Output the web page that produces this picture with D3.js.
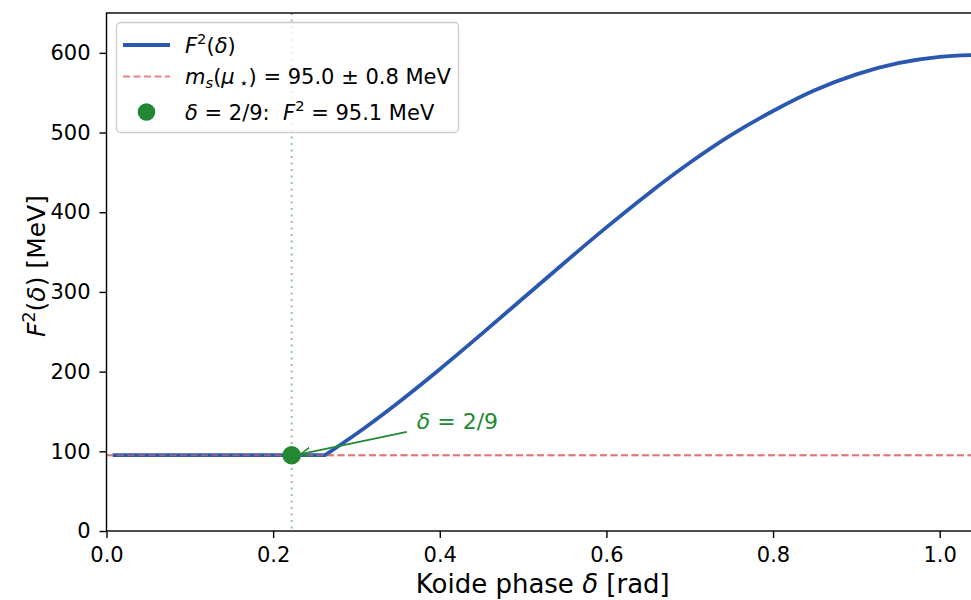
<!DOCTYPE html>
<html>
<head>
<meta charset="utf-8">
<script src="https://cdn.jsdelivr.net/npm/d3@7"></script>
<style>
  body { margin: 0; background: #fff; }
  svg { display: block; font-family: "DejaVu Sans", sans-serif; }
</style>
</head>
<body>
<div id="chart"></div>
<script>
// curve F^2(delta) (flat part, then the rise from the kink)
var deltaVals = [0.0075, 0.05, 0.10, 0.15, 0.20, 0.2222, 0.2623, 0.30, 0.35, 0.40, 0.45, 0.50, 0.55, 0.60, 0.65, 0.70, 0.75, 0.80, 0.85, 0.90, 0.95, 1.00, 1.0472];
var f2Vals    = [95.1, 95.1, 95.1, 95.1, 95.1, 95.1, 95.1, 122, 161, 203, 247, 292, 337, 381, 423, 462, 497, 527, 553, 573, 587, 595, 597.4];
var kinkIndex = 6;

var msValue = 95.0;
var deltaStar = 2 / 9;
var f2Star = 95.1;

var xTicks = [0.0, 0.2, 0.4, 0.6, 0.8, 1.0];
var yTicks = [0, 100, 200, 300, 400, 500, 600];

var width = 971, height = 600;
var plotL = 106.5, plotR = 979, plotT = 13, plotB = 531;

var blue = "#2a58b0", red = "#e07070", green = "#228833";

var svg = d3.select("#chart").append("svg")
    .attr("width", width)
    .attr("height", height);

var x = d3.scaleLinear().domain([0, Math.PI / 3]).range([plotL, plotR]);
var y = d3.scaleLinear().domain([0, 650]).range([plotB, plotT]);

// writes simple "mathtext" as tspans, size = base font size in px
function richText(sel, parts, size) {
    sel.style("font-size", size + "px");
    var shift = 0;
    parts.forEach(function (p) {
        var t = sel.append("tspan").text(p.t);
        var want = p.sup ? -0.42 * size : (p.sub ? 0.2 * size : 0);
        if (want !== shift) t.attr("dy", want - shift);
        shift = want;
        if (p.it) t.style("font-style", "italic");
        if (p.sup || p.sub) t.style("font-size", (0.7 * size) + "px");
    });
    return sel;
}

var plot = svg.append("g");

// vertical dotted line at delta = 2/9
plot.append("line")
    .attr("x1", x(deltaStar)).attr("x2", x(deltaStar))
    .attr("y1", plotT).attr("y2", plotB)
    .attr("stroke", green)
    .attr("stroke-opacity", 0.5)
    .attr("stroke-width", 2)
    .attr("stroke-dasharray", "2,4.5");

// m_s reference line
plot.append("line")
    .attr("x1", plotL).attr("x2", plotR)
    .attr("y1", y(msValue)).attr("y2", y(msValue))
    .attr("stroke", red)
    .attr("stroke-opacity", 0.9)
    .attr("stroke-width", 2)
    .attr("stroke-dasharray", "7,3.5");

var pts = deltaVals.map(function (d, i) { return [d, f2Vals[i]]; });
var flatLine = d3.line()
    .x(function (d) { return x(d[0]); })
    .y(function (d) { return y(d[1]); });
var riseLine = d3.line()
    .x(function (d) { return x(d[0]); })
    .y(function (d) { return y(d[1]); })
    .curve(d3.curveMonotoneX);

plot.append("path")
    .attr("d", flatLine(pts.slice(0, kinkIndex + 1)) + riseLine(pts.slice(kinkIndex)).replace(/^M/, "L"))
    .attr("fill", "none")
    .attr("stroke", blue)
    .attr("stroke-width", 3.8)
    .attr("stroke-linejoin", "round");

// red line drawn again on top, faint
plot.append("line")
    .attr("x1", plotL).attr("x2", plotR)
    .attr("y1", y(msValue)).attr("y2", y(msValue))
    .attr("stroke", red)
    .attr("stroke-opacity", 0.55)
    .attr("stroke-width", 2)
    .attr("stroke-dasharray", "7,3.5");

plot.append("circle")
    .attr("cx", x(deltaStar))
    .attr("cy", y(f2Star))
    .attr("r", 9.3)
    .attr("fill", green);

// annotation
svg.append("defs").append("marker")
    .attr("id", "head")
    .attr("viewBox", "0 0 10 10")
    .attr("refX", 10).attr("refY", 5)
    .attr("markerWidth", 10).attr("markerHeight", 10)
    .attr("markerUnits", "userSpaceOnUse")
    .attr("orient", "auto")
    .append("path")
    .attr("d", "M0,0 L10,5 L0,10")
    .attr("fill", "none")
    .attr("stroke", green)
    .attr("stroke-width", 1.6);

var textX = x(0.3724), textY = y(128);
svg.append("line")
    .attr("x1", textX - 10).attr("y1", textY + 3)
    .attr("x2", x(deltaStar) + 9).attr("y2", y(f2Star) - 1)
    .attr("stroke", green)
    .attr("stroke-width", 1.8)
    .attr("marker-end", "url(#head)");

richText(svg.append("text")
    .attr("x", textX).attr("y", textY)
    .attr("fill", green),
    [{ t: "δ", it: true }, { t: " = 2/9" }], 22);

// axes
var xAxis = svg.append("g")
    .attr("transform", "translate(0," + plotB + ")")
    .call(d3.axisBottom(x).tickValues(xTicks).tickFormat(d3.format(".1f"))
        .tickSize(7).tickPadding(9).tickSizeOuter(0));
var yAxis = svg.append("g")
    .attr("transform", "translate(" + plotL + ",0)")
    .call(d3.axisLeft(y).tickValues(yTicks).tickFormat(d3.format("d"))
        .tickSize(7).tickPadding(9).tickSizeOuter(0));
[xAxis, yAxis].forEach(function (a) {
    a.selectAll("text").style("font-size", "21px").attr("fill", "#000")
        .style("font-family", "DejaVu Sans");
    a.selectAll("line").attr("stroke", "#000").attr("stroke-width", 1.4);
    a.select(".domain").remove();
});

// frame
svg.append("rect")
    .attr("x", plotL).attr("y", plotT)
    .attr("width", plotR - plotL).attr("height", plotB - plotT)
    .attr("fill", "none")
    .attr("stroke", "#000")
    .attr("stroke-width", 1.4);

// axis labels
richText(svg.append("text")
    .attr("x", (plotL + plotR) / 2).attr("y", 593)
    .attr("text-anchor", "middle"),
    [{ t: "Koide phase " }, { t: "δ", it: true }, { t: " [rad]" }], 26);

richText(svg.append("text")
    .attr("transform", "translate(45," + ((plotT + plotB) / 2 - 6) + ") rotate(-90)")
    .attr("text-anchor", "middle"),
    [{ t: "F", it: true }, { t: "2", sup: true }, { t: "(" }, { t: "δ", it: true }, { t: ") [MeV]" }], 25);

// legend
var legend = svg.append("g");
legend.append("rect")
    .attr("x", 116.5).attr("y", 22.5)
    .attr("width", 342).attr("height", 110)
    .attr("rx", 4)
    .attr("fill", "#fff").attr("fill-opacity", 0.8)
    .attr("stroke", "#ccc").attr("stroke-width", 1.3);

var rowY = [45, 76.5, 112];
legend.append("line")
    .attr("x1", 123).attr("x2", 170).attr("y1", rowY[0]).attr("y2", rowY[0])
    .attr("stroke", blue).attr("stroke-width", 3.8);
legend.append("line")
    .attr("x1", 123).attr("x2", 170).attr("y1", rowY[1]).attr("y2", rowY[1])
    .attr("stroke", red).attr("stroke-opacity", 0.85).attr("stroke-width", 2)
    .attr("stroke-dasharray", "7,3.5");
legend.append("circle")
    .attr("cx", 146.5).attr("cy", rowY[2]).attr("r", 8.8)
    .attr("fill", green);

var legendLabels = [
    [{ t: "F", it: true }, { t: "2", sup: true }, { t: "(" }, { t: "δ", it: true }, { t: ")" }],
    [{ t: "m", it: true }, { t: "s", it: true, sub: true }, { t: "(" }, { t: "μ", it: true }, { t: "\u00a0⋆", sub: true }, { t: ") = 95.0 ± 0.8 MeV" }],
    [{ t: "δ", it: true }, { t: " = 2/9:\u00a0\u00a0" }, { t: "F", it: true }, { t: "2", sup: true }, { t: " = 95.1 MeV" }]
];
legendLabels.forEach(function (parts, i) {
    richText(legend.append("text")
        .attr("x", 185).attr("y", rowY[i] + 7.5),
        parts, 21);
});
</script>
</body>
</html>
